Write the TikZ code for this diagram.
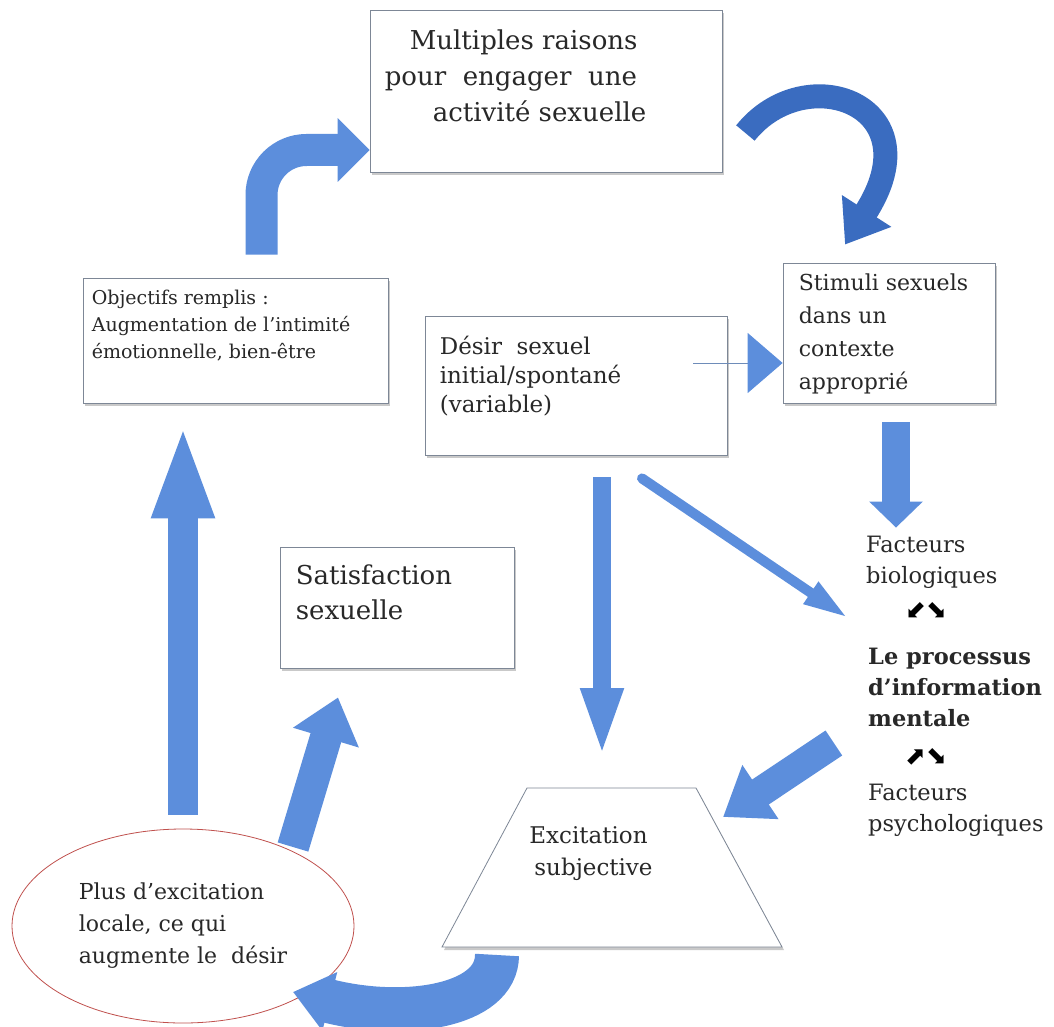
\documentclass[tikz,border=0pt]{standalone}
\usepackage{fontspec}
\setmainfont{DejaVu Serif}
\newfontfamily\arrowfont{DejaVu Sans}
\usetikzlibrary{arrows.meta,positioning,shapes.geometric,shadows}
\definecolor{arrblue}{RGB}{92,142,220}
\definecolor{arrdark}{RGB}{58,108,192}
\definecolor{arrline}{RGB}{110,140,185}
\definecolor{boxgray}{RGB}{125,135,150}
\definecolor{txtgray}{RGB}{40,40,40}
\definecolor{ellred}{RGB}{192,80,77}
\newcommand{\colfont}{\fontsize{22.5}{31}\selectfont}
\tikzset{
  box/.style={draw=boxgray, fill=white, line width=0.8pt, inner sep=0pt,
    drop shadow={shadow xshift=2pt, shadow yshift=-3pt, opacity=0.35, fill=black!60}},
  txt/.style={inner sep=0pt, align=left, text=txtgray},
  fat/.style={draw=arrblue, line width=#1},
}
\begin{document}
\begin{tikzpicture}[x=1pt, y=-1pt]
\path[use as bounding box, fill=white] (0,0) rectangle (1054,1027);

% boxes
\node[box, minimum width=352pt, minimum height=162pt] (mr) at (546,91) {};
\node[txt, font={\fontsize{26}{36}\selectfont}, below right=20pt and 15pt of mr.north west] (mrtext)
  {\hspace*{25pt}Multiples raisons\\pour\ \ engager\ \ une\\\hspace*{48pt}activité sexuelle};
\node[box, minimum width=305pt, minimum height=125pt] (obj) at (235.5,340.5) {};
\node[txt, font={\fontsize{19}{27}\selectfont}, below right=12pt and 9pt of obj.north west] (objtext)
  {Objectifs remplis :\\Augmentation de l’intimité\\émotionnelle, bien-être};
\node[box, minimum width=302pt, minimum height=139pt] (dz) at (576,385.5) {};
\node[txt, font={\fontsize{23}{29}\selectfont}, below right=20pt and 15pt of dz.north west] (dztext)
  {Désir\ \ sexuel\\initial/spontané\\(variable)};
\node[box, minimum width=212pt, minimum height=140pt] (st) at (889,333) {};
\node[txt, font={\fontsize{22}{33}\selectfont}, below right=11pt and 16pt of st.north west] (sttext)
  {Stimuli sexuels\\dans un\\contexte\\approprié};
\node[box, minimum width=234pt, minimum height=121pt] (sat) at (397,607.5) {};
\node[txt, font={\fontsize{26}{35}\selectfont}, below right=18pt and 16pt of sat.north west] (sattext)
  {Satisfaction\\sexuelle};
\node[ellipse, draw=ellred, fill=white, line width=0.8pt, minimum width=342pt, minimum height=194pt,
  inner sep=0pt, align=left, text=txtgray, font={\fontsize{22}{32}\selectfont}] (pl) at (183,926)
  {Plus d’excitation\\locale, ce qui\\augmente le\ \ désir};

% excitation trapezoid
\coordinate (exbl) at (442,947);
\coordinate (extl) at (527,788);
\coordinate (extr) at (696,788);
\coordinate (exbr) at (782,947);
\path[box] (exbl) -- (extl) -- (extr) -- (exbr) -- cycle;
\node[txt, font={\fontsize{23}{32}\selectfont}] (ex) at (591,854) {Excitation\\\hspace*{5pt}subjective};

% right column
\node[txt, font=\colfont, anchor=west] (bio) at (866,562) {Facteurs\\biologiques};
\node[inner sep=0pt, font={\arrowfont\fontsize{25}{26}\selectfont}] (arr1) at (926,610) {⬋⬊};
\node[txt, font={\colfont\bfseries}, anchor=west] (proc) at (868,687) {Le processus\\d’information\\mentale};
\node[inner sep=0pt, font={\arrowfont\fontsize{25}{26}\selectfont}] (arr2) at (926,757) {⬈⬊};
\node[txt, font=\colfont, anchor=west] (psy) at (868,810) {Facteurs\\psychologiques};

% connectors
\draw[fat=32pt, rounded corners=45pt, -{Triangle[length=32pt,width=62pt]}]
  ([xshift=26pt,yshift=23pt]obj.north) |- ([yshift=-59pt]mr.west);
\draw[fat=24pt, draw=arrdark, -{Triangle[length=40pt,width=56pt]}]
  ([xshift=23pt,yshift=-42pt]mr.east) .. controls +(60,-75) and +(90,-140) .. ([xshift=-44pt,yshift=18pt]st.north);
\coordinate (dzline) at (693,363);
\draw[draw=arrline, line width=1pt, -{Triangle[length=35pt,width=60pt,color=arrblue]}]
  (dzline) -- (dzline -| st.west);
\draw[fat=28pt, -{Triangle[length=26pt,width=52pt]}, shorten >=8pt]
  ([xshift=7pt,yshift=-19pt]st.south) -- ([xshift=7pt]st.south |- bio.north);
\draw[fat=18pt, -{Triangle[length=70pt,width=38pt]}, shorten >=30pt]
  ([xshift=26pt,yshift=-22pt]dz.south) -- ([xshift=26pt]dz.south |- extl);
\draw[fat=10pt, line cap=round, -{Triangle[length=45pt,width=24pt]}]
  ([xshift=66pt,yshift=-23pt]dz.south) -- ([xshift=-20pt,yshift=69pt]proc.west);
\draw[fat=30pt, -{Triangle[length=45pt,width=62pt]}]
  ([xshift=-71pt,yshift=14pt]arr2.west) -- ([xshift=27pt,yshift=-29pt]extr);
\draw[fat=30pt, -{Triangle[length=95pt,width=56pt]}, shorten >=20pt]
  ([yshift=14pt]pl.north) -- (pl.north |- obj.south);
\draw[fat=32pt, -{Triangle[length=42pt,width=66pt]}]
  ([xshift=110pt,yshift=79pt]pl.center) -- ([xshift=-59pt,yshift=-29pt]sat.south);
\draw[fat=44pt, -{Triangle[length=38pt,width=58pt]}]
  ([xshift=55pt,yshift=-8pt]exbl) .. controls +(0,52) and +(110,28) .. ([xshift=110pt,yshift=-66pt]pl.center);
\end{tikzpicture}
\end{document}
